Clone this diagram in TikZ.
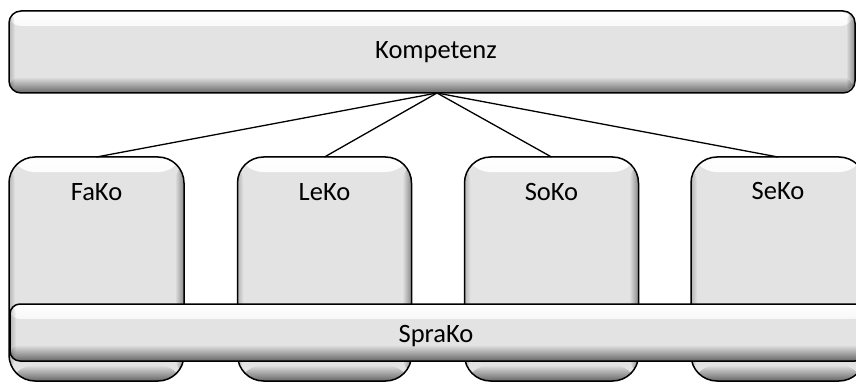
\documentclass[tikz,border=0pt]{standalone}
\usepackage{fontspec}
\setmainfont{Carlito}
\usetikzlibrary{fadings}
\definecolor{boxgray}{HTML}{E3E3E3}
\tikzfading[name=fadedown, top color=transparent!0, bottom color=transparent!100]
\tikzfading[name=fadeup, top color=transparent!100, bottom color=transparent!0]
\tikzfading[name=faderight, left color=transparent!100, right color=transparent!0]
\tikzfading[name=fadeleft, left color=transparent!0, right color=transparent!100]
\tikzset{
  bevel/.style={
    draw=black, line width=1.5pt, fill=boxgray, rounded corners=#1,
    inner sep=0pt, outer sep=0pt,
    path picture={
      \fill[white, path fading=fadedown]
        ([yshift=-1pt]path picture bounding box.north west) rectangle
        ([yshift=-15pt]path picture bounding box.north east);
      \fill[black, fill opacity=0.55, path fading=fadeup]
        ([yshift=16pt]path picture bounding box.south west) rectangle
        (path picture bounding box.south east);
      \fill[black, fill opacity=0.4, path fading=faderight]
        ([xshift=-9pt]path picture bounding box.north east) rectangle
        (path picture bounding box.south east);
      \fill[black, fill opacity=0.2, path fading=fadeleft]
        (path picture bounding box.north west) rectangle
        ([xshift=6pt]path picture bounding box.south west);
    }
  },
  lbl/.style={font=\fontsize{26.5}{30}\selectfont, text=black, inner sep=0pt, anchor=base},
  conn/.style={draw=black, line width=1.3pt}
}
\begin{document}
\begin{tikzpicture}[x=1pt, y=1pt]
\useasboundingbox (0,0) rectangle (856,383);
\clip (0,0) rectangle (856,383);
% top bar
\node[bevel=12pt, minimum width=846pt, minimum height=82pt] (komp) at (432,331) {};
\node[lbl] (kompt) at (436,324) {Kompetenz};
% four boxes
\node[bevel=26pt, minimum width=175pt, minimum height=224pt] (fako) at (96.5,114) {};
\node[bevel=26pt, minimum width=174pt, minimum height=224pt] (leko) at (324.5,114) {};
\node[bevel=26pt, minimum width=174pt, minimum height=224pt] (soko) at (551.5,114) {};
\node[bevel=26pt, minimum width=174pt, minimum height=224pt] (seko) at (778,114) {};
\node[lbl] (fakot) at (96.5,182) {FaKo};
\node[lbl] (lekot) at (324.5,182) {LeKo};
\node[lbl] (sokot) at (551.5,182) {SoKo};
\node[lbl] (sekot) at (778,183) {SeKo};
% sprako bar
\node[bevel=10pt, minimum width=855pt, minimum height=57pt] (sprako) at (437.5,50.5) {};
\node[lbl] (sprakot) at (436,41) {SpraKo};
% connectors
\coordinate (apex) at (437,290);
\draw[conn] (apex) -- (fako.north);
\draw[conn] (apex) -- (leko.north);
\draw[conn] (apex) -- (soko.north);
\draw[conn] (apex) -- (seko.north);
\end{tikzpicture}
\end{document}
